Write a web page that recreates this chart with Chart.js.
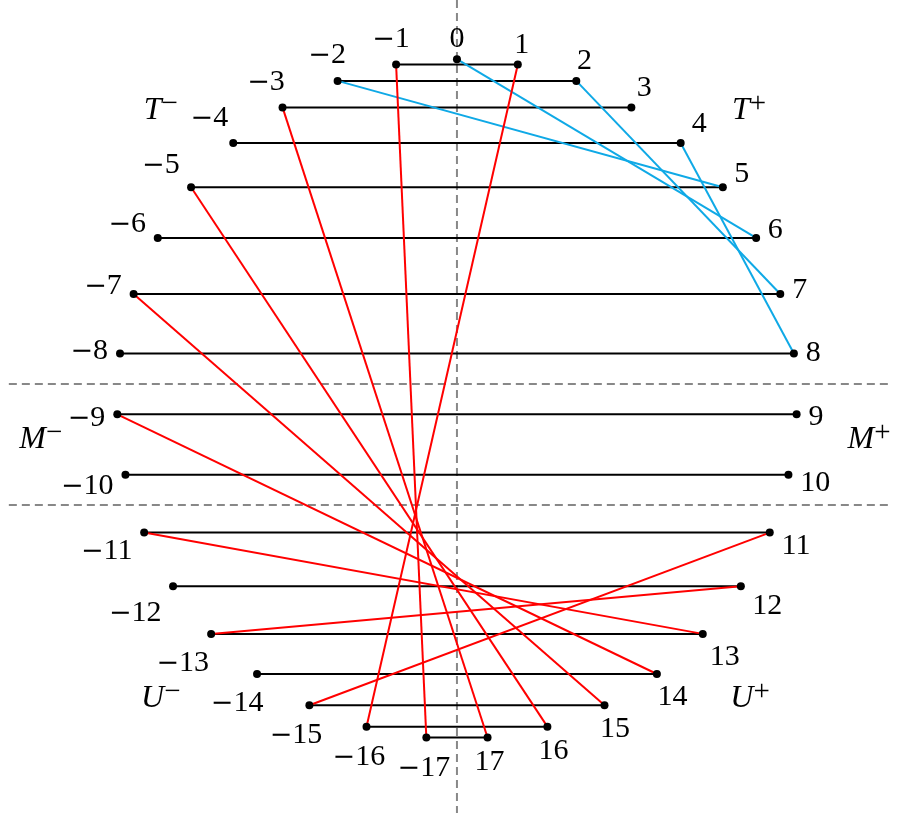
<!DOCTYPE html>
<html>
<head>
<meta charset="utf-8">
<script src="https://cdn.jsdelivr.net/npm/chart.js@4.4.1/dist/chart.umd.min.js"></script>
<style>
    html, body { margin: 0; padding: 0; background: #fff; }
    #wrap { width: 902px; height: 813px; }
</style>
</head>
<body>
<div id="wrap"><canvas id="diagram" width="902" height="813"></canvas></div>
<script>
// Node ids and their positions (circle of radius 100 around the origin)
const nodeIds = [-17, -16, -15, -14, -13, -12, -11, -10, -9, -8, -7, -6, -5, -4, -3, -2, -1,
    0, 1, 2, 3, 4, 5, 6, 7, 8, 9, 10, 11, 12, 13, 14, 15, 16, 17];
const nodeX = [-9.0, -26.6, -43.4, -58.8, -72.3, -83.5, -92.0, -97.5, -99.9, -99.1, -95.1, -88.0, -78.2, -65.8, -51.3, -35.1, -17.9,
    0, 17.9, 35.1, 51.3, 65.8, 78.2, 88.0, 95.1, 99.1, 99.9, 97.5, 92.0, 83.5, 72.3, 58.8, 43.4, 26.6, 9.0];
const nodeY = [-99.6, -96.4, -90.1, -80.9, -69.1, -55.1, -39.3, -22.3, -4.5, 13.4, 30.9, 47.4, 62.3, 75.3, 85.8, 93.6, 98.4,
    100, 98.4, 93.6, 85.8, 75.3, 62.3, 47.4, 30.9, 13.4, -4.5, -22.3, -39.3, -55.1, -69.1, -80.9, -90.1, -96.4, -99.6];

// Links between nodes
const rungLinks = [[-1, 1], [-2, 2], [-3, 3], [-4, 4], [-5, 5], [-6, 6], [-7, 7], [-8, 8], [-9, 9],
    [-10, 10], [-11, 11], [-12, 12], [-13, 13], [-14, 14], [-15, 15], [-16, 16], [-17, 17]];
const blueLinks = [[0, 6], [-2, 5], [2, 7], [4, 8]];
const redLinks = [[-1, -17], [1, -16], [-3, 17], [-5, 16], [-7, 15], [-9, 14], [-11, 13], [-13, 12], [-15, 11]];

// Dashed separators
const dividerY = [4.4, -31.2];
const dividerXRange = [-131.8, 128.2];
const axisYRange = [117.4, -121.8];

// Region names
const regionLetters = ['T', 'T', 'M', 'M', 'U', 'U'];
const regionSigns = ['\u2212', '+', '\u2212', '+', '\u2212', '+'];
const regionX = [-87.1, 85.9, -122.4, 121.2, -87.1, 86.2];
const regionY = [85.6, 85.6, -11.2, -11.2, -87.4, -87.4];

const FONT = '"Liberation Serif", "DejaVu Serif", serif';
const DIGIT_FONT = `30px ${FONT}`;
const MINUS_FONT = '27px "DejaVu Serif", serif';
const SUP_FONT = `29px ${FONT}`;
const MINUS = '\u2212';

function nodePoint(id) {
    const i = nodeIds.indexOf(id);
    return { x: nodeX[i], y: nodeY[i] };
}

function linkDataset(pair, color, order) {
    return {
        type: 'line',
        data: pair.map(nodePoint),
        borderColor: color,
        borderWidth: 2,
        pointRadius: 0,
        fill: false,
        tension: 0,
        order: order
    };
}

// Node labels placed like TikZ "label=angle:text"
const nodeLabelPlugin = {
    id: 'nodeLabels',
    afterDatasetsDraw(chart) {
        const ctx = chart.ctx;
        const xs = chart.scales.x;
        const ys = chart.scales.y;
        const digitH = 20;
        const innerSep = 9;
        ctx.save();
        ctx.fillStyle = '#000';
        ctx.textBaseline = 'alphabetic';
        ctx.textAlign = 'left';
        ctx.font = MINUS_FONT;
        const minusW = ctx.measureText(MINUS).width;
        nodeIds.forEach((id, i) => {
            const digits = String(Math.abs(id));
            const neg = id < 0;
            ctx.font = DIGIT_FONT;
            const digitsW = ctx.measureText(digits).width;
            const textW = digitsW + (neg ? minusW : 0);
            const r = Math.hypot(nodeX[i], nodeY[i]);
            const ux = nodeX[i] / r;
            const uy = -nodeY[i] / r; // pixel y goes down
            const hw = textW / 2 + innerSep;
            const hh = digitH / 2 + innerSep + (neg ? 6 : 0);
            const tx = Math.abs(ux) > 1e-6 ? hw / Math.abs(ux) : Infinity;
            const ty = Math.abs(uy) > 1e-6 ? hh / Math.abs(uy) : Infinity;
            const d = Math.min(tx, ty) + 3;
            const cx = xs.getPixelForValue(nodeX[i]) + ux * d;
            const cy = ys.getPixelForValue(nodeY[i]) + uy * d;
            let left = cx - textW / 2;
            const base = cy + digitH / 2;
            if (neg) {
                ctx.font = MINUS_FONT;
                ctx.fillText(MINUS, left, base);
                left += minusW;
            }
            ctx.font = DIGIT_FONT;
            ctx.fillText(digits, left, base);
        });

        // Region names with superscript signs
        regionLetters.forEach((letter, i) => {
            const cx = xs.getPixelForValue(regionX[i]);
            const cy = ys.getPixelForValue(regionY[i]);
            ctx.font = `italic 32px ${FONT}`;
            const wl = ctx.measureText(letter).width;
            ctx.font = SUP_FONT;
            const ws = ctx.measureText(regionSigns[i]).width;
            const left = cx - (wl + ws) / 2;
            const base = cy + 11;
            ctx.font = `italic 32px ${FONT}`;
            ctx.fillText(letter, left, base);
            ctx.font = SUP_FONT;
            ctx.fillText(regionSigns[i], left + wl, base - 7);
        });
        ctx.restore();
    }
};

const datasets = [];

// Dots on top
datasets.push({
    type: 'scatter',
    data: nodeIds.map(nodePoint),
    pointRadius: 4,
    pointHoverRadius: 4,
    pointBackgroundColor: '#000',
    pointBorderWidth: 0,
    showLine: false,
    order: 0
});

redLinks.forEach(p => datasets.push(linkDataset(p, '#ff0000', 1)));
blueLinks.forEach(p => datasets.push(linkDataset(p, '#0fa9e6', 1)));
rungLinks.forEach(p => datasets.push(linkDataset(p, '#000000', 2)));

// Dashed separators
dividerY.forEach(y => {
    datasets.push({
        type: 'line',
        data: [{ x: dividerXRange[0], y: y }, { x: dividerXRange[1], y: y }],
        borderColor: '#888888',
        borderWidth: 2,
        borderDash: [8, 5],
        pointRadius: 0,
        order: 3
    });
});
datasets.push({
    type: 'line',
    data: [{ x: 0, y: axisYRange[0] }, { x: 0, y: axisYRange[1] }],
    borderColor: '#888888',
    borderWidth: 2,
    borderDash: [8, 5],
    pointRadius: 0,
    order: 3
});

new Chart(document.getElementById('diagram'), {
    type: 'scatter',
    data: { datasets: datasets },
    options: {
        responsive: false,
        animation: false,
        layout: { padding: 0, autoPadding: false },
        plugins: {
            legend: { display: false },
            tooltip: { enabled: false }
        },
        scales: {
            x: { type: 'linear', min: -134.4, max: 130.9, display: false },
            y: { type: 'linear', min: -121.8, max: 117.4, display: false }
        }
    },
    plugins: [nodeLabelPlugin]
});
</script>
</body>
</html>
